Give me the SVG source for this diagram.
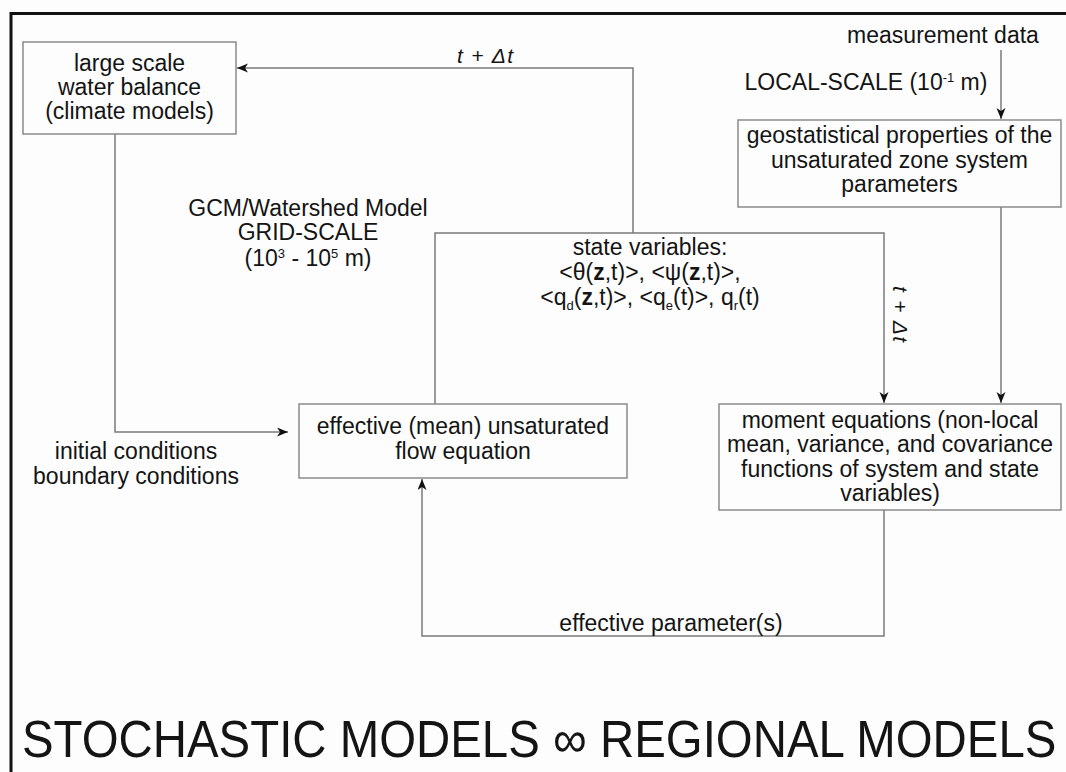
<svg xmlns="http://www.w3.org/2000/svg" width="1066" height="772" viewBox="0 0 1066 772">
<style>
text{font-family:"Liberation Sans",Arial,sans-serif;font-size:23px;fill:#141414;text-anchor:middle}
.box{fill:none;stroke:#8a8a8a;stroke-width:1.5}
.conn{fill:none;stroke:#7a7a7a;stroke-width:1.5}
.it{font-style:italic;font-size:21px}
.sup{font-size:13px}
.sub{font-size:13px}
.b{font-weight:bold}
</style>
<defs>
<marker id="arr" markerUnits="userSpaceOnUse" markerWidth="12" markerHeight="10" refX="11" refY="4.5" orient="auto">
<path d="M0,0 L11,4.5 L0,9 L3,4.5 z" fill="#111"/>
</marker>
</defs>
<rect x="0" y="0" width="1066" height="772" fill="#fdfdfd"/>
<rect x="11" y="13.5" width="1100" height="800" fill="none" stroke="#111" stroke-width="3"/>

<g id="connectors">
<path class="conn" d="M633,233 V68 H237" marker-end="url(#arr)"/>
<path class="conn" d="M115,134 V432 H288" marker-end="url(#arr)"/>
<path class="conn" d="M1001,50 V119" marker-end="url(#arr)"/>
<path class="conn" d="M1001,207 V403" marker-end="url(#arr)"/>
<path class="conn" d="M435,404 V233 H884 V403" marker-end="url(#arr)"/>
<path class="conn" d="M884,510 V636 H422 V479" marker-end="url(#arr)"/>
<text class="it" x="485" y="63" textLength="56">t + Δt</text>
<text class="it" transform="translate(893,314) rotate(90)" textLength="56">t + Δt</text>
<text x="671" y="631">effective parameter(s)</text>
</g>

<g id="large-scale">
<rect class="box" x="23" y="42" width="213" height="92"/>
<text x="129.5" y="71">large scale</text>
<text x="129.5" y="95">water balance</text>
<text x="129.5" y="119">(climate models)</text>
</g>

<g id="gcm-label">
<text x="308" y="216">GCM/Watershed Model</text>
<text x="308" y="240">GRID-SCALE</text>
<text x="308" y="266">(10<tspan class="sup" dy="-8">3</tspan><tspan dy="8"> - 10</tspan><tspan class="sup" dy="-8">5</tspan><tspan dy="8"> m)</tspan></text>
</g>

<g id="measurement">
<text x="943" y="43">measurement data</text>
<text x="866" y="90">LOCAL-SCALE (10<tspan class="sup" dy="-8">-1</tspan><tspan dy="8"> m)</tspan></text>
</g>

<g id="geostat">
<rect class="box" x="738" y="120" width="323" height="87"/>
<text x="899.5" y="143">geostatistical properties of the</text>
<text x="899.5" y="168">unsaturated zone system</text>
<text x="899.5" y="192">parameters</text>
</g>

<g id="state-variables">
<text x="650" y="255">state variables:</text>
<text x="650" y="280">&lt;θ(<tspan class="b">z</tspan>,t)&gt;, &lt;ψ(<tspan class="b">z</tspan>,t)&gt;,</text>
<text x="650" y="305">&lt;q<tspan class="sub" dy="5">d</tspan><tspan dy="-5">(</tspan><tspan class="b">z</tspan>,t)&gt;, &lt;q<tspan class="sub" dy="5">e</tspan><tspan dy="-5">(t)&gt;, q</tspan><tspan class="sub" dy="5">r</tspan><tspan dy="-5">(t)</tspan></text>
</g>

<g id="effective">
<rect class="box" x="299" y="404" width="328" height="74"/>
<text x="463" y="434">effective (mean) unsaturated</text>
<text x="463" y="459">flow equation</text>
</g>

<g id="conditions">
<text x="136" y="459">initial conditions</text>
<text x="136" y="484">boundary conditions</text>
</g>

<g id="moment">
<rect class="box" x="719" y="404" width="342" height="106"/>
<text x="890" y="428">moment equations (non-local</text>
<text x="890" y="452">mean, variance, and covariance</text>
<text x="890" y="477">functions of system and state</text>
<text x="890" y="501">variables)</text>
</g>

<g id="title">
<text transform="translate(22,757) scale(1,1.1)" x="0" y="0" style="text-anchor:start;font-size:47.4px">STOCHASTIC MODELS ∞ REGIONAL MODELS</text>
</g>
</svg>
